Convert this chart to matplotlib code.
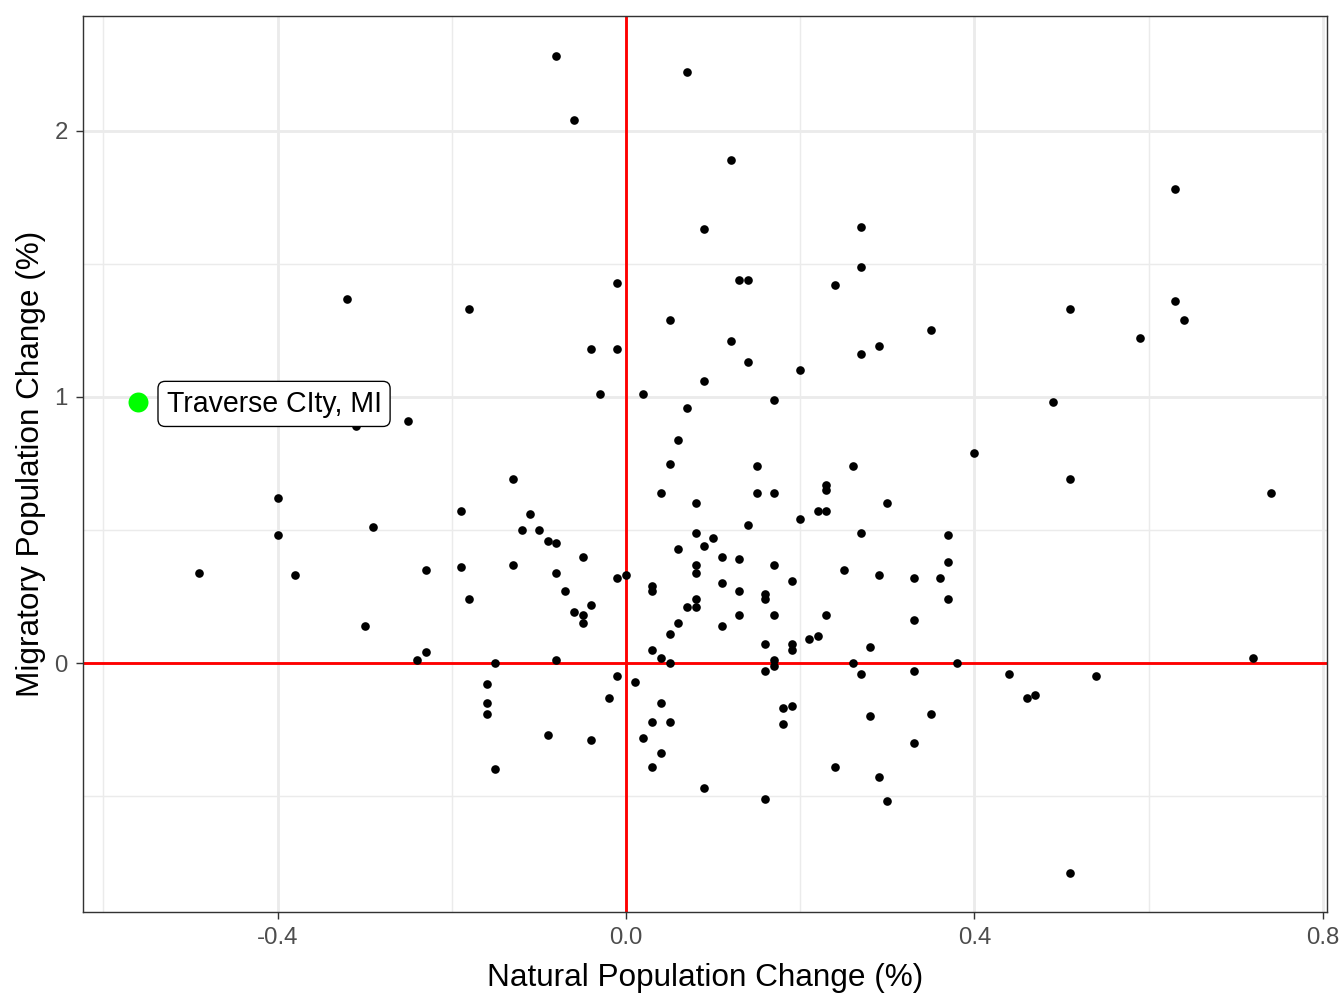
import matplotlib
matplotlib.use('Agg')
import matplotlib.pyplot as plt

plt.rcParams['font.family'] = ['Liberation Sans', 'DejaVu Sans']
plt.rcParams['axes.unicode_minus'] = False

# natural vs migratory population change (%) per metro area
natural = [
    -0.08, 0.07, -0.06, 0.12, 0.63, 0.09, 0.27, 0.27, -0.32, -0.18,
    -0.01, 0.13, 0.14, 0.24, 0.51, 0.63, 0.64, 0.05, 0.35, 0.12,
    -0.04, -0.01, 0.29, 0.27, 0.14, 0.59, 0.20, 0.09, -0.03, 0.02,
    0.17, 0.49, 0.07, -0.31, -0.25, 0.06, 0.40, -0.40, -0.40, -0.49,
    -0.38, -0.29, -0.19, -0.23, -0.19, -0.18, -0.30, -0.23, -0.24, -0.15,
    -0.16, -0.16, -0.16, -0.15, -0.13, 0.05, 0.15, 0.26, 0.04, 0.15,
    0.17, 0.23, 0.23, 0.30, 0.08, -0.11, 0.22, 0.23, 0.20, -0.12,
    -0.10, 0.14, 0.27, 0.08, 0.10, -0.09, -0.08, 0.09, 0.06, -0.05,
    0.11, 0.13, -0.13, 0.08, 0.08, 0.17, 0.25, -0.08, 0.00, -0.01,
    0.29, 0.33, 0.19, 0.11, 0.03, 0.03, -0.07, 0.13, 0.16, 0.16,
    0.08, 0.08, 0.07, -0.04, -0.06, -0.05, -0.05, 0.13, 0.17, 0.23,
    0.33, 0.06, 0.11, 0.05, 0.21, 0.22, 0.16, 0.19, 0.19, 0.28,
    0.03, 0.04, 0.05, -0.08, 0.17, 0.17, 0.16, 0.26, 0.27, 0.33,
    -0.01, 0.01, -0.02, 0.04, 0.18, 0.19, 0.18, 0.28, 0.03, 0.05,
    -0.09, -0.04, 0.02, 0.33, 0.04, 0.03, 0.24, 0.29, 0.09, 0.16,
    0.30, 0.51, 0.74, 0.37, 0.37, 0.36, 0.37, 0.38, 0.44, 0.46,
    0.47, 0.54, 0.35, 0.72, 0.51,
]
migratory = [
    2.28, 2.22, 2.04, 1.89, 1.78, 1.63, 1.64, 1.49, 1.37, 1.33,
    1.43, 1.44, 1.44, 1.42, 1.33, 1.36, 1.29, 1.29, 1.25, 1.21,
    1.18, 1.18, 1.19, 1.16, 1.13, 1.22, 1.10, 1.06, 1.01, 1.01,
    0.99, 0.98, 0.96, 0.89, 0.91, 0.84, 0.79, 0.62, 0.48, 0.34,
    0.33, 0.51, 0.57, 0.35, 0.36, 0.24, 0.14, 0.04, 0.01, 0.00,
    -0.08, -0.15, -0.19, -0.40, 0.69, 0.75, 0.74, 0.74, 0.64, 0.64,
    0.64, 0.67, 0.65, 0.60, 0.60, 0.56, 0.57, 0.57, 0.54, 0.50,
    0.50, 0.52, 0.49, 0.49, 0.47, 0.46, 0.45, 0.44, 0.43, 0.40,
    0.40, 0.39, 0.37, 0.37, 0.34, 0.37, 0.35, 0.34, 0.33, 0.32,
    0.33, 0.32, 0.31, 0.30, 0.29, 0.27, 0.27, 0.27, 0.26, 0.24,
    0.24, 0.21, 0.21, 0.22, 0.19, 0.18, 0.15, 0.18, 0.18, 0.18,
    0.16, 0.15, 0.14, 0.11, 0.09, 0.10, 0.07, 0.07, 0.05, 0.06,
    0.05, 0.02, 0.00, 0.01, 0.01, -0.01, -0.03, 0.00, -0.04, -0.03,
    -0.05, -0.07, -0.13, -0.15, -0.17, -0.16, -0.23, -0.20, -0.22, -0.22,
    -0.27, -0.29, -0.28, -0.30, -0.34, -0.39, -0.39, -0.43, -0.47, -0.51,
    -0.52, 0.69, 0.64, 0.48, 0.38, 0.32, 0.24, 0.00, -0.04, -0.13,
    -0.12, -0.05, -0.19, 0.02, -0.79,
]

# highlighted metro
hl_name = 'Traverse CIty, MI'
hl_natural = -0.56
hl_migratory = 0.98

x_ticks = [-0.4, 0.0, 0.4, 0.8]
x_minor = [-0.6, -0.2, 0.2, 0.6]
y_ticks = [0, 1, 2]
y_minor = [-0.5, 0.5, 1.5]

fig = plt.figure(figsize=(7, 5.25), dpi=192)
ax = fig.add_axes([0.0618, 0.0952, 0.9256, 0.8889])

ax.set_xlim(-0.6234, 0.8048)
ax.set_ylim(-0.936, 2.432)

# grid like theme_bw
for v in x_minor:
    ax.axvline(v, color='#EBEBEB', linewidth=0.53, zorder=0)
for v in y_minor:
    ax.axhline(v, color='#EBEBEB', linewidth=0.53, zorder=0)
for v in x_ticks:
    ax.axvline(v, color='#EBEBEB', linewidth=1.07, zorder=0)
for v in y_ticks:
    ax.axhline(v, color='#EBEBEB', linewidth=1.07, zorder=0)

ax.axvline(0, color='red', linewidth=1.07, zorder=1)
ax.axhline(0, color='red', linewidth=1.07, zorder=1)

ax.scatter(natural, migratory, s=10.5, color='black', linewidths=0, zorder=2)
ax.scatter([hl_natural], [hl_migratory], s=56, color='#00FF00', linewidths=0, zorder=3)

ax.annotate(hl_name, xy=(hl_natural, hl_migratory), xytext=(10.6, -0.6),
            textcoords='offset points', ha='left', va='center', fontsize=10.7,
            color='black', zorder=4,
            bbox=dict(boxstyle='round,pad=0.3,rounding_size=0.25', fc='white',
                      ec='black', lw=0.5))

ax.set_xticks(x_ticks)
ax.set_xticklabels(['-0.4', '0.0', '0.4', '0.8'])
ax.set_yticks(y_ticks)
ax.set_yticklabels(['0', '1', '2'])
ax.tick_params(axis='both', length=2.75, width=0.53, color='#333333',
               labelsize=9, labelcolor='#4D4D4D', pad=3)

for sp in ax.spines.values():
    sp.set_color('#333333')
    sp.set_linewidth(0.53)

ax.set_xlabel('Natural Population Change (%)', fontsize=11.8, labelpad=5.2)
ax.set_ylabel('Migratory Population Change (%)', fontsize=11.8, labelpad=3.2)

fig.savefig('out.png', dpi=192)
